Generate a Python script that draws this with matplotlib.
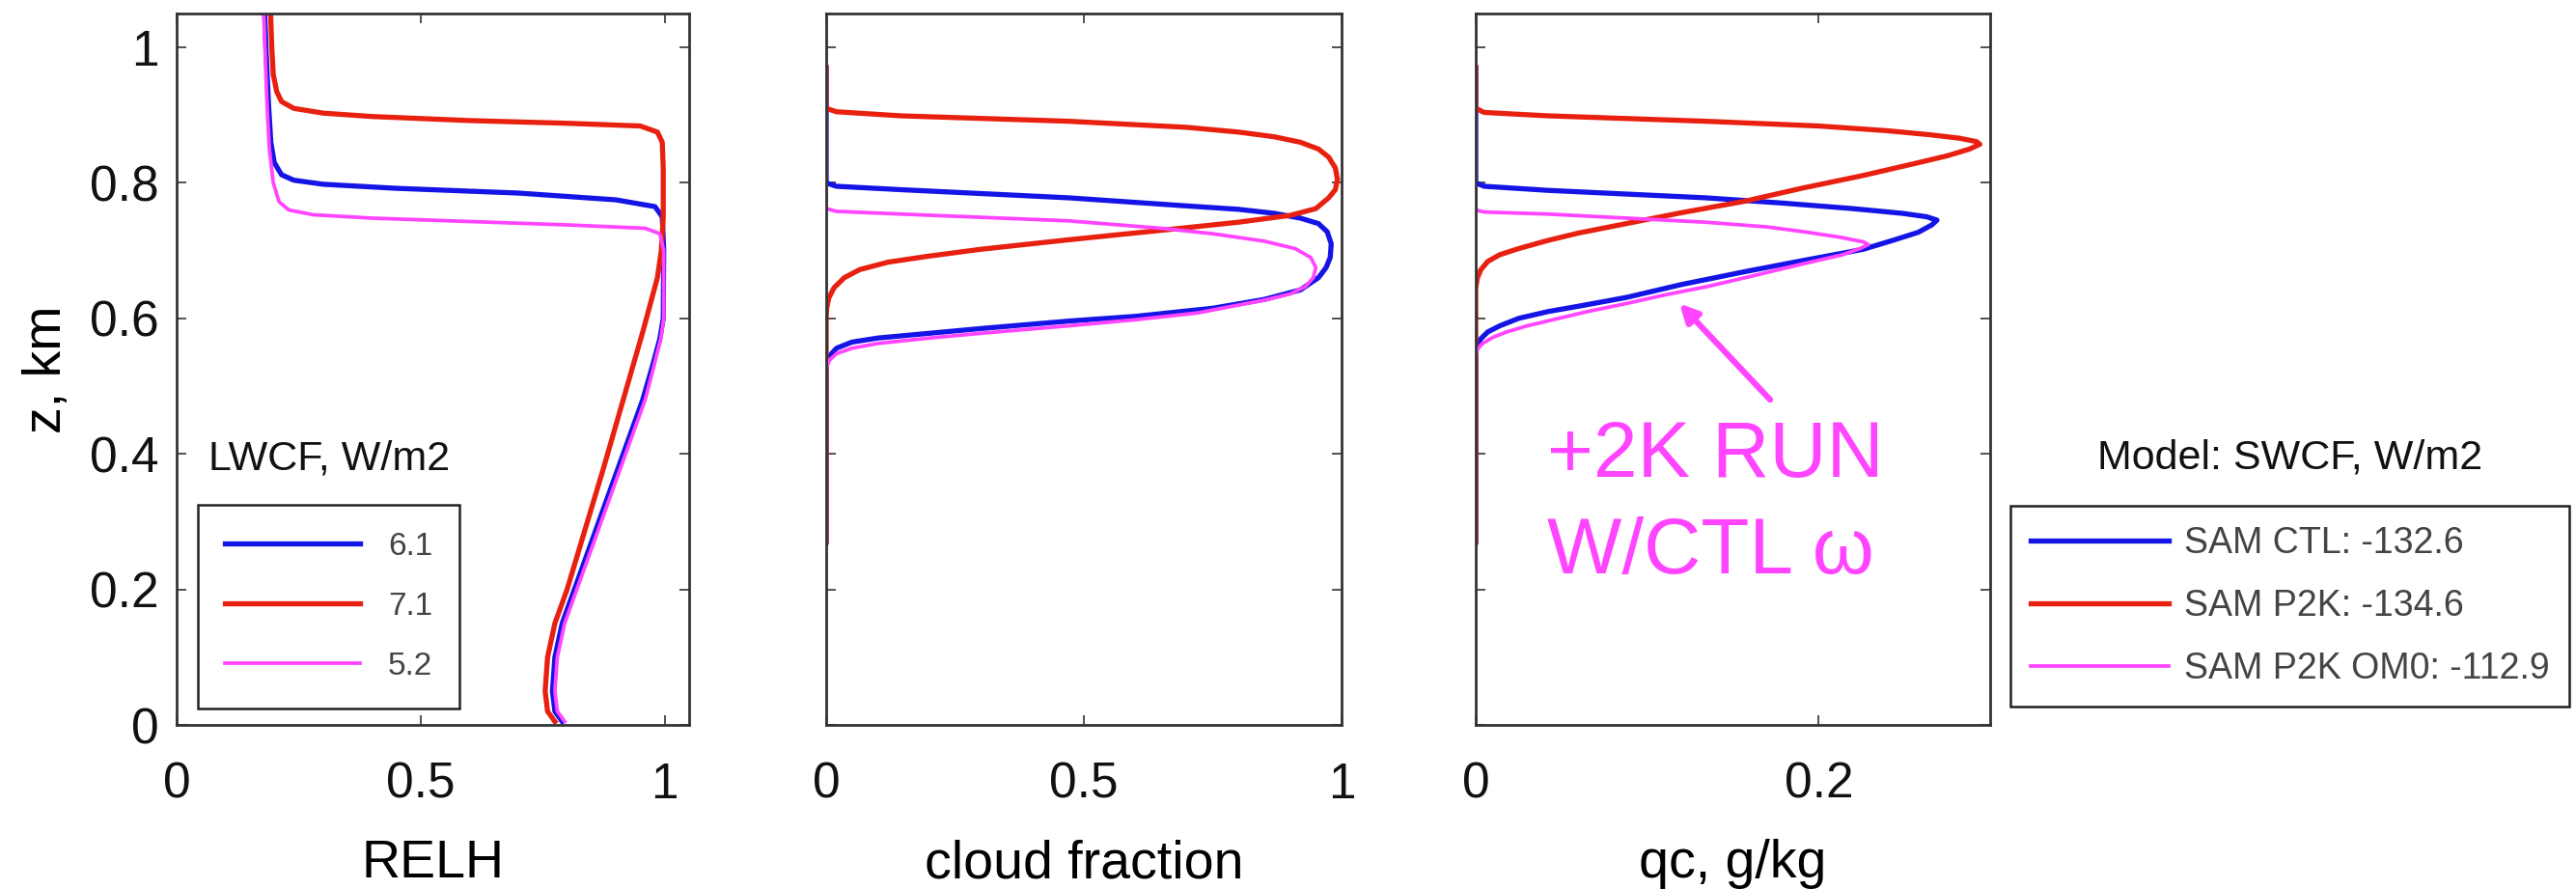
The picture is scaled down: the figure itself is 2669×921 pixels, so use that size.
import matplotlib
matplotlib.use("Agg")
import matplotlib.pyplot as plt

plt.rcParams['font.family'] = ['Liberation Sans', 'DejaVu Sans']

# ---------------- data: (value, height in km) ----------------
# Relative humidity profiles
relh_ctl_x = [0.79, 0.775, 0.77, 0.775, 0.79, 0.815, 0.845, 0.875, 0.905, 0.93, 0.955, 0.975, 0.99,
              0.997, 0.998, 0.995, 0.98, 0.90, 0.70, 0.45, 0.30, 0.24, 0.215, 0.20, 0.193, 0.188, 0.183, 0.18]
relh_ctl_z = [0.005, 0.02, 0.05, 0.10, 0.15, 0.20, 0.26, 0.32, 0.38, 0.43, 0.48, 0.53, 0.57,
              0.60, 0.70, 0.75, 0.765, 0.775, 0.785, 0.792, 0.798, 0.804, 0.812, 0.83, 0.86, 0.92, 1.0, 1.06]

relh_p2k_x = [0.775, 0.76, 0.755, 0.76, 0.775, 0.80, 0.825, 0.85, 0.875, 0.895, 0.915, 0.935, 0.955,
              0.97, 0.985, 0.993, 0.997, 0.997, 0.995, 0.985, 0.95, 0.80, 0.60, 0.40, 0.30, 0.24, 0.215,
              0.205, 0.198, 0.195, 0.192]
relh_p2k_z = [0.005, 0.02, 0.05, 0.10, 0.15, 0.20, 0.26, 0.32, 0.38, 0.43, 0.48, 0.53, 0.58,
              0.62, 0.66, 0.70, 0.75, 0.82, 0.86, 0.875, 0.884, 0.888, 0.892, 0.898, 0.903, 0.91, 0.92,
              0.935, 0.96, 1.0, 1.06]

relh_om0_x = [0.795, 0.78, 0.775, 0.78, 0.795, 0.82, 0.85, 0.88, 0.91, 0.935, 0.96, 0.978, 0.992,
              0.998, 0.998, 0.99, 0.96, 0.80, 0.60, 0.40, 0.28, 0.23, 0.21, 0.198, 0.19, 0.185, 0.181, 0.178]
relh_om0_z = [0.005, 0.02, 0.05, 0.10, 0.15, 0.20, 0.26, 0.32, 0.38, 0.43, 0.48, 0.53, 0.57,
              0.60, 0.70, 0.725, 0.733, 0.738, 0.743, 0.748, 0.753, 0.76, 0.772, 0.80, 0.85, 0.92, 1.0, 1.06]

# Cloud fraction profiles
cf_ctl_x = [0, 0, 0.02, 0.145, 0.47, 0.70, 0.80, 0.87, 0.92, 0.955, 0.972, 0.98, 0.978, 0.97, 0.955,
            0.92, 0.85, 0.75, 0.60, 0.47, 0.30, 0.20, 0.10, 0.05, 0.02, 0.007, 0.001, 0, 0]
cf_ctl_z = [0.97, 0.80, 0.795, 0.79, 0.778, 0.766, 0.761, 0.755, 0.748, 0.74, 0.728, 0.71, 0.69, 0.675, 0.66,
            0.642, 0.628, 0.615, 0.603, 0.596, 0.585, 0.578, 0.571, 0.565, 0.556, 0.545, 0.535, 0.52, 0.27]

cf_p2k_x = [0, 0, 0.02, 0.145, 0.47, 0.70, 0.80, 0.87, 0.92, 0.955, 0.975, 0.988, 0.992, 0.988, 0.975,
            0.95, 0.90, 0.80, 0.65, 0.47, 0.30, 0.20, 0.12, 0.065, 0.035, 0.015, 0.005, 0.001, 0, 0]
cf_p2k_z = [0.97, 0.91, 0.905, 0.899, 0.891, 0.882, 0.875, 0.868, 0.86, 0.85, 0.838, 0.822, 0.805, 0.79, 0.778,
            0.762, 0.752, 0.742, 0.73, 0.716, 0.702, 0.692, 0.683, 0.672, 0.66, 0.645, 0.63, 0.615, 0.60, 0.27]

cf_om0_x = [0, 0, 0.02, 0.145, 0.47, 0.65, 0.75, 0.85, 0.91, 0.94, 0.95, 0.945, 0.93, 0.90, 0.85,
            0.72, 0.60, 0.47, 0.30, 0.20, 0.10, 0.05, 0.02, 0.006, 0.001, 0, 0]
cf_om0_z = [0.97, 0.762, 0.758, 0.754, 0.744, 0.733, 0.725, 0.714, 0.703, 0.69, 0.675, 0.66, 0.647, 0.636, 0.627,
            0.608, 0.598, 0.589, 0.578, 0.571, 0.563, 0.556, 0.548, 0.538, 0.528, 0.515, 0.265]

# Cloud liquid water profiles, g/kg
qc_ctl_x = [0, 0, 0.005, 0.042, 0.134, 0.18, 0.22, 0.249, 0.263, 0.269, 0.266, 0.258, 0.243, 0.226,
            0.19, 0.157, 0.12, 0.088, 0.06, 0.042, 0.025, 0.014, 0.007, 0.003, 0.001, 0, 0]
qc_ctl_z = [0.97, 0.80, 0.795, 0.789, 0.778, 0.77, 0.762, 0.755, 0.75, 0.745, 0.738, 0.727, 0.715, 0.702,
            0.685, 0.669, 0.65, 0.631, 0.618, 0.61, 0.60, 0.589, 0.58, 0.57, 0.56, 0.55, 0.27]

qc_p2k_x = [0, 0, 0.005, 0.042, 0.134, 0.20, 0.24, 0.265, 0.282, 0.292, 0.294, 0.288, 0.275, 0.255,
            0.226, 0.19, 0.157, 0.12, 0.088, 0.06, 0.042, 0.025, 0.014, 0.007, 0.003, 0.001, 0, 0]
qc_p2k_z = [0.97, 0.91, 0.904, 0.899, 0.891, 0.884, 0.877, 0.871, 0.866, 0.861, 0.857, 0.85, 0.84, 0.828,
            0.811, 0.792, 0.773, 0.756, 0.74, 0.726, 0.715, 0.703, 0.694, 0.684, 0.672, 0.66, 0.645, 0.27]

qc_om0_x = [0, 0, 0.005, 0.042, 0.134, 0.17, 0.191, 0.212, 0.226, 0.229, 0.224, 0.214, 0.19, 0.157,
            0.135, 0.111, 0.088, 0.065, 0.045, 0.03, 0.018, 0.01, 0.004, 0.001, 0, 0]
qc_om0_z = [0.97, 0.76, 0.757, 0.754, 0.742, 0.735, 0.728, 0.72, 0.713, 0.709, 0.703, 0.694, 0.68, 0.66,
            0.647, 0.635, 0.622, 0.61, 0.598, 0.589, 0.58, 0.572, 0.563, 0.555, 0.545, 0.265]

lwcf_values = ["6.1", "7.1", "5.2"]
run_names = ["SAM CTL", "SAM P2K", "SAM P2K OM0"]
swcf_values = ["-132.6", "-134.6", "-112.9"]

# ---------------- styling ----------------
C_CTL = '#1414e6'
C_P2K = '#e8200f'
C_OM0 = '#ff45ff'
LW_THICK = 3.8
LW_THIN = 2.7

W, H = 2669, 921
fig = plt.figure(figsize=(W / 100, H / 100), dpi=100)
fig.patch.set_facecolor('white')

def fx(px):
    return px / W

def fy(py):
    return (H - py) / H

bottom, top = 751, 14
panels = [(183, 714), (856, 1390), (1529, 2062)]
axes = []
for (l, r) in panels:
    ax = fig.add_axes([fx(l), fy(bottom), (r - l) / W, (bottom - top) / H])
    axes.append(ax)

TICK_FS = 37
LABEL_FS = 40

for i, ax in enumerate(axes):
    ax.set_ylim(0, 1.05)
    ax.set_yticks([0, 0.2, 0.4, 0.6, 0.8, 1])
    ax.tick_params(direction='in', top=True, right=True, length=7, width=1.2,
                   color='#333333', labelsize=TICK_FS, labelcolor='#111111')
    ax.tick_params(axis='x', pad=27)
    ax.tick_params(axis='y', pad=13)
    for s in ax.spines.values():
        s.set_linewidth(2.0)
        s.set_color('#333333')
    if i > 0:
        ax.set_yticklabels([])
    ax.xaxis.set_label_coords(0.5, -0.2144)
    ax.xaxis.label.set_verticalalignment('baseline')

# RELH panel
ax1 = axes[0]
ax1.set_xlim(0, 1.05)
ax1.set_xticks([0, 0.5, 1])
ax1.set_xticklabels(['0', '0.5', '1'])
ax1.set_yticklabels(['0', '0.2', '0.4', '0.6', '0.8', '1'])
l_ctl, = ax1.plot(relh_ctl_x, relh_ctl_z, color=C_CTL, lw=LW_THICK, solid_joinstyle='round')
l_p2k, = ax1.plot(relh_p2k_x, relh_p2k_z, color=C_P2K, lw=LW_THICK, solid_joinstyle='round')
l_om0, = ax1.plot(relh_om0_x, relh_om0_z, color=C_OM0, lw=LW_THIN, solid_joinstyle='round')
ax1.set_xlabel('RELH', fontsize=LABEL_FS)
ax1.set_ylabel('z, km', fontsize=LABEL_FS)
ax1.yaxis.set_label_coords(-0.203, 0.5)

# cloud fraction panel
ax2 = axes[1]
ax2.set_xlim(0, 1.0)
ax2.set_xticks([0, 0.5, 1])
ax2.set_xticklabels(['0', '0.5', '1'])
ax2.plot(cf_ctl_x, cf_ctl_z, color=C_CTL, lw=LW_THICK, solid_joinstyle='round')
ax2.plot(cf_p2k_x, cf_p2k_z, color=C_P2K, lw=LW_THICK, solid_joinstyle='round')
ax2.plot(cf_om0_x, cf_om0_z, color=C_OM0, lw=LW_THIN, solid_joinstyle='round')
ax2.set_xlabel('cloud fraction', fontsize=LABEL_FS)

# qc panel
ax3 = axes[2]
ax3.set_xlim(0, 0.3)
ax3.set_xticks([0, 0.2])
ax3.set_xticklabels(['0', '0.2'])
q1, = ax3.plot(qc_ctl_x, qc_ctl_z, color=C_CTL, lw=LW_THICK, solid_joinstyle='round')
q2, = ax3.plot(qc_p2k_x, qc_p2k_z, color=C_P2K, lw=LW_THICK, solid_joinstyle='round')
q3, = ax3.plot(qc_om0_x, qc_om0_z, color=C_OM0, lw=LW_THIN, solid_joinstyle='round')
ax3.set_xlabel('qc, g/kg', fontsize=LABEL_FS)

# annotation for the fixed-omega warming run
ax3.annotate('', xy=(0.1188, 0.622), xytext=(0.1717, 0.48),
             arrowprops=dict(arrowstyle='-|>,head_length=1.1,head_width=0.55',
                             color=C_OM0, lw=4.5, shrinkA=0, shrinkB=0))
ax3.text(0.0417, 0.366, '+2K RUN', color=C_OM0, fontsize=59, va='baseline', ha='left')
ax3.text(0.0417, 0.2236, 'W/CTL \u03c9', color=C_OM0, fontsize=59, va='baseline', ha='left')

# LWCF legend inside the first panel
leg1 = fig.legend([l_ctl, l_p2k, l_om0], lwcf_values, loc='upper left',
                  bbox_to_anchor=(fx(205), fy(523)), bbox_transform=fig.transFigure,
                  borderaxespad=0, fontsize=24, handlelength=4.2, handletextpad=0.87,
                  labelspacing=0.93, borderpad=0.84, fancybox=False, framealpha=1,
                  edgecolor='#222222')
leg1.get_frame().set_linewidth(1.8)
for t in leg1.get_texts():
    t.set_color('#444444')
fig.text(fx(341), fy(475), 'LWCF, W/m2', fontsize=31, ha='center', va='center', color='#111111')

# SWCF legend to the right of the panels
labels2 = [f"{n}: {v}" for n, v in zip(run_names, swcf_values)]
leg2 = fig.legend([q1, q2, q3], labels2, loc='upper left',
                  bbox_to_anchor=(fx(2083), fy(524)), bbox_transform=fig.transFigure,
                  borderaxespad=0, fontsize=27, handlelength=3.8, handletextpad=0.43,
                  labelspacing=0.77, borderpad=0.56, fancybox=False, framealpha=1,
                  edgecolor='#222222')
leg2.get_frame().set_linewidth(1.8)
for t in leg2.get_texts():
    t.set_color('#444444')
fig.text(fx(2373), fy(474), 'Model: SWCF, W/m2', fontsize=31, ha='center', va='center', color='#111111')

fig.savefig('out.png', dpi=100, facecolor='white')
